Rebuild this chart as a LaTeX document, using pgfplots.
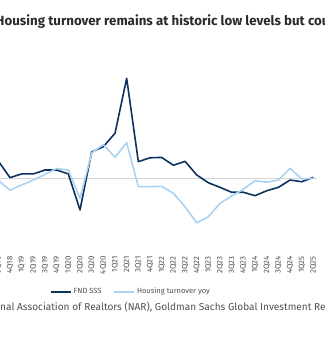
\documentclass[border=0pt]{standalone}
\usepackage{pgfplots}
\pgfplotsset{compat=1.18}
\usepackage{fontspec}
\setmainfont{Fira Sans}
\definecolor{navy}{HTML}{0C3260}
\definecolor{lightb}{HTML}{A9D3F2}
\definecolor{zline}{HTML}{D6D6D6}
\definecolor{txt}{HTML}{505050}
\definecolor{ttl}{HTML}{2B2B2B}
\begin{document}
\begin{tikzpicture}[x=1pt,y=1pt]
\begin{axis}[
  at={(-1.7pt,108pt)}, anchor=south west,
  scale only axis, width=318.6pt, height=153pt,
  xmin=0, xmax=27.3, ymin=-30, ymax=60,
  axis line style={draw=none},
  ytick={0}, yticklabels={}, ymajorgrids,
  grid style={zline, line width=0.8pt},
  major tick length=0,
  xtick={0,...,27},
  xticklabels={3Q18,4Q18,1Q19,2Q19,3Q19,4Q19,1Q20,2Q20,3Q20,4Q20,1Q21,2Q21,3Q21,4Q21,1Q22,2Q22,3Q22,4Q22,1Q23,2Q23,3Q23,4Q23,1Q24,2Q24,3Q24,4Q24,1Q25,2Q25},
  xticklabel style={rotate=90, anchor=east, font=\fontsize{7.8}{8}\selectfont, text=txt},
  xticklabel shift=24pt,
  legend style={at={(0.162,-0.41)}, anchor=west, draw=none, fill=none, inner sep=0pt,
    font=\fontsize{7.5}{8}\selectfont, text=txt,
    /tikz/every even column/.append style={column sep=10pt}},
  legend columns=2,
  legend image code/.code={\draw[#1] (0pt,0pt) -- (20pt,0pt);},
]
\addplot[navy, line width=1.6pt, line join=round] coordinates {
(0,10.0) (1,0.2) (2,2.4) (3,2.4) (4,4.7) (5,4.7) (6,2.4) (7,-18.8)
(8,15.3) (9,18.4) (10,26.3) (11,58.6) (12,9.6) (13,11.9) (14,12.1) (15,7.5)
(16,9.8) (17,1.8) (18,-2.8) (19,-5.5) (20,-8.4) (21,-8.4) (22,-10.4) (23,-7.5)
(24,-5.5) (25,-1.2) (26,-2.2) (27,0.4)};
\addlegendentry{FND SSS}
\addplot[lightb, line width=1.6pt, line join=round] coordinates {
(0,-1.4) (1,-7.2) (2,-4.1) (3,-1.2) (4,2.1) (5,5.6) (6,4.7) (7,-12.0)
(8,14.7) (9,19.7) (10,12.2) (11,20.8) (12,-5.1) (13,-5.1) (14,-4.9) (15,-9.0)
(16,-16.9) (17,-26.3) (18,-22.8) (19,-14.9) (20,-10.6) (21,-6.6) (22,-1.6) (23,-2.5)
(24,-1.2) (25,5.7) (26,-0.6) (27,-0.2)};
\addlegendentry{Housing turnover yoy}
\end{axis}
\node[anchor=base west, inner sep=0pt, text=ttl, font=\bfseries\fontsize{13.3}{15}\selectfont] at (-4.5,311) {Housing turnover remains at historic low levels but could};
\node[anchor=base east, inner sep=0pt, text=txt, font=\fontsize{10.1}{12}\selectfont] at (0,27) {Source: Natio};
\node[anchor=base west, inner sep=0pt, text=txt, font=\fontsize{10.1}{12}\selectfont] at (0,27) {nal Association of Realtors (NAR), Goldman Sachs Global Investment Research};
\pgfresetboundingbox
\path[use as bounding box] (0,0) rectangle (324,337);
\end{tikzpicture}
\end{document}
